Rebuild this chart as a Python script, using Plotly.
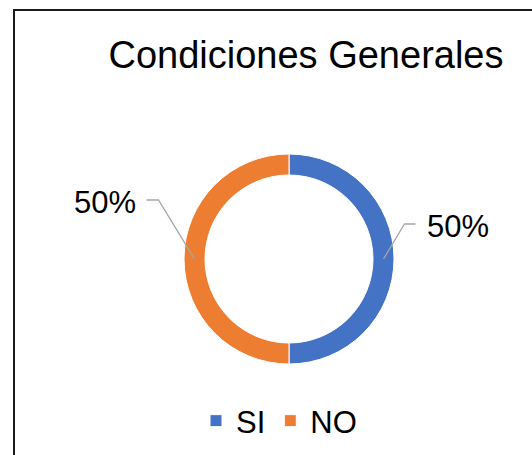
import math
import plotly.graph_objects as go

labels = ["SI", "NO"]
values = [50, 50]
colors = ["#4472C4", "#ED7D31"]
title_text = "Condiciones Generales"

W, H = 532, 455
cx, cy, R = 289, 259, 105  # donut centre / outer radius in pixels
hole = 0.8
FONT = "Liberation Sans, Arial, sans-serif"

fig = go.Figure()
fig.add_trace(go.Pie(
    labels=labels, values=values, hole=hole, sort=False, direction="clockwise",
    rotation=0, marker=dict(colors=colors, line=dict(color="white", width=1)),
    textinfo="none", hoverinfo="label+percent",
    domain=dict(x=[(cx - R) / W, (cx + R) / W], y=[(H - cy - R) / H, (H - cy + R) / H]),
))

def px(x):
    return x / W

def py(y):
    return 1 - y / H

total = sum(values)
shapes = []
annotations = []
cum = 0
rmid = R * (1 + hole) / 2
for lab, v in zip(labels, values):
    mid = (cum + v / 2) / total * 2 * math.pi  # clockwise from top
    cum += v
    sx = cx + rmid * math.sin(mid)
    sy = cy - rmid * math.cos(mid)
    side = 1 if math.sin(mid) >= 0 else -1
    if side > 0:
        bx, by = sx + 21, sy - 35
        ex = bx + 11
        tx = ex + 9
    else:
        bx, by = sx - 36, sy - 59
        ex = bx - 12
        tx = ex - 9
    shapes.append(dict(type="path", xref="paper", yref="paper",
                       path=f"M {px(sx)} {py(sy)} L {px(bx)} {py(by)} L {px(ex)} {py(by)}",
                       line=dict(color="#A6A6A6", width=1.3)))
    pct = f"{round(v / total * 100)}%"
    annotations.append(dict(text=pct, x=px(tx), y=py(by + 2), xref="paper", yref="paper",
                            xanchor="left" if side > 0 else "right", yanchor="middle",
                            showarrow=False, font=dict(size=31, color="black", family=FONT)))

# chart border
shapes.append(dict(type="rect", xref="paper", yref="paper",
                   x0=px(14), x1=1.05, y0=-0.05, y1=py(10),
                   line=dict(color="#1a1a1a", width=2)))

fig.update_layout(
    width=W, height=H, margin=dict(l=0, r=0, t=0, b=0),
    paper_bgcolor="white", plot_bgcolor="white",
    title=dict(text=title_text, x=px(306), xanchor="center", y=py(55), yanchor="middle",
               font=dict(size=38, color="black", family=FONT)),
    showlegend=True,
    legend=dict(orientation="h", x=px(279), xanchor="center", y=py(421), yanchor="middle",
                font=dict(size=31, color="black", family=FONT), itemwidth=30,
                bgcolor="rgba(0,0,0,0)"),
    shapes=shapes, annotations=annotations,
)

fig.write_html("out.html", config={"displayModeBar": False},
               post_script="document.body.style.margin='0';document.body.style.overflow='hidden';")
